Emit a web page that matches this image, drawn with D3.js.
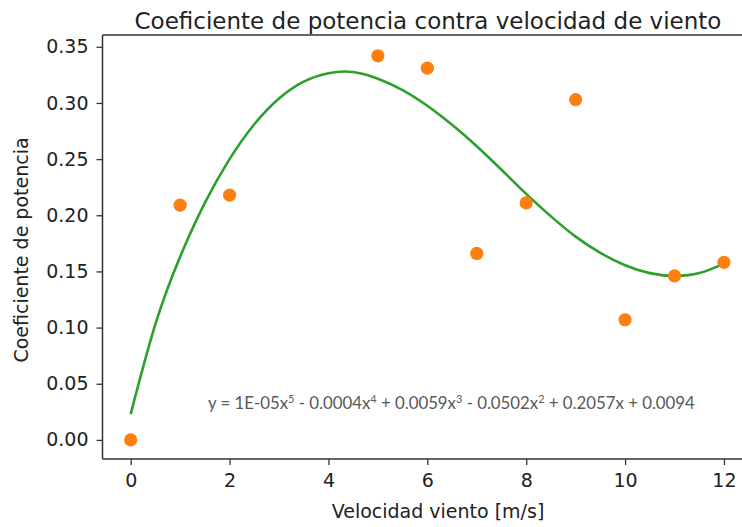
<!DOCTYPE html>
<html><head><meta charset="utf-8">
<script src="https://cdn.jsdelivr.net/npm/d3@7"></script>
<style>body{margin:0;background:#fff}svg{display:block}</style>
</head><body>
<svg id="c" width="742" height="527"></svg>
<script>
// Data
const windSpeed = [0, 1, 2, 5, 6, 7, 8, 9, 10, 11, 12];
const powerCoef = [0.000, 0.209, 0.218, 0.342, 0.331, 0.166, 0.211, 0.303, 0.107, 0.146, 0.158];
// Fitted trend curve
const curveX = [0, 0.5, 1, 1.5, 2, 2.5, 3, 3.5, 4, 4.5, 5, 5.5, 6, 6.5, 7, 7.5, 8, 8.5, 9, 9.5, 10, 10.5, 11, 11.5, 12];
const curveY = [0.023, 0.103, 0.163, 0.211, 0.250, 0.281, 0.304, 0.319, 0.3265, 0.3275, 0.3215, 0.3115, 0.2975, 0.2805, 0.2615, 0.2405, 0.219, 0.199, 0.181, 0.1665, 0.1555, 0.1485, 0.1460, 0.1485, 0.157];
const xTicks = [0, 2, 4, 6, 8, 10, 12];
const yTicks = [0, 0.05, 0.10, 0.15, 0.20, 0.25, 0.30, 0.35];
const title = "Coeficiente de potencia contra velocidad de viento";
const xLabel = "Velocidad viento [m/s]";
const yLabel = "Coeficiente de potencia";
const eqParts = [["y = 1E-05x", "5"], [" - 0.0004x", "4"], [" + 0.0059x", "3"], [" - 0.0502x", "2"], [" + 0.2057x + 0.0094", null]];

const svg = d3.select("#c");
const mLeft = 102.5, mTop = 35, mBottom = 459;
const x = d3.scaleLinear().domain([-0.57, 12.6]).range([mLeft, mLeft + 13.17 * 49.44]);
const y = d3.scaleLinear().domain([-0.017, 0.3605]).range([mBottom, mTop]);
const axisColor = "#333";
const font = "DejaVu Sans, sans-serif";

// curve
const line = d3.line().x(d => x(d[0])).y(d => y(d[1])).curve(d3.curveNatural);
svg.append("path").datum(curveX.map((v, i) => [v, curveY[i]]))
  .attr("d", line).attr("fill", "none").attr("stroke", "#2ca02c").attr("stroke-width", 2.6);

// points
svg.append("g").selectAll("circle").data(windSpeed).join("circle")
  .attr("cx", d => x(d)).attr("cy", (d, i) => y(powerCoef[i])).attr("r", 6.6)
  .attr("fill", "#ff7f0e");

// axes
const xAxis = d3.axisBottom(x).tickValues(xTicks).tickFormat(d3.format("d")).tickSizeOuter(0).tickSize(6).tickPadding(9);
const gx = svg.append("g").attr("transform", `translate(0,${mBottom})`).call(xAxis);
const yAxis = d3.axisLeft(y).tickValues(yTicks).tickFormat(d3.format(".2f")).tickSizeOuter(0).tickSize(6).tickPadding(8);
const gy = svg.append("g").attr("transform", `translate(${mLeft},0)`).call(yAxis);
[gx, gy].forEach(g => {
  g.select(".domain").remove();
  g.selectAll(".tick line").attr("stroke", axisColor).attr("stroke-width", 1.3);
  g.selectAll(".tick text").attr("fill", "#222").style("font-family", font).style("font-size", "19px");
});
// spines
svg.append("line").attr("x1", mLeft).attr("x2", mLeft).attr("y1", mTop).attr("y2", mBottom).attr("stroke", axisColor).attr("stroke-width", 1.5);
svg.append("line").attr("x1", mLeft).attr("x2", 760).attr("y1", mBottom).attr("y2", mBottom).attr("stroke", axisColor).attr("stroke-width", 1.5);
svg.append("line").attr("x1", mLeft).attr("x2", 760).attr("y1", mTop).attr("y2", mTop).attr("stroke", axisColor).attr("stroke-width", 1.5);

// titles
svg.append("text").attr("x", 428).attr("y", 29).attr("text-anchor", "middle")
  .style("font-family", font).style("font-size", "23px").attr("fill", "#222").text(title);
svg.append("text").attr("x", 438).attr("y", 518).attr("text-anchor", "middle")
  .style("font-family", font).style("font-size", "19px").attr("fill", "#222").text(xLabel);
svg.append("text").attr("transform", `translate(28,${(mTop + mBottom) / 2 + 3}) rotate(-90)`).attr("text-anchor", "middle")
  .style("font-family", font).style("font-size", "19px").attr("fill", "#222").text(yLabel);

// equation
const eq = svg.append("text").attr("x", 208).attr("y", 409)
  .style("font-family", "Lato, 'Open Sans', sans-serif").style("font-size", "16.8px").attr("fill", "#595959");
let raised = false;
eqParts.forEach(([t, s]) => {
  eq.append("tspan").attr("dy", raised ? 6 : 0).text(t);
  raised = false;
  if (s) { eq.append("tspan").attr("dy", -6).style("font-size", "11px").text(s); raised = true; }
});
</script>
</body></html>
